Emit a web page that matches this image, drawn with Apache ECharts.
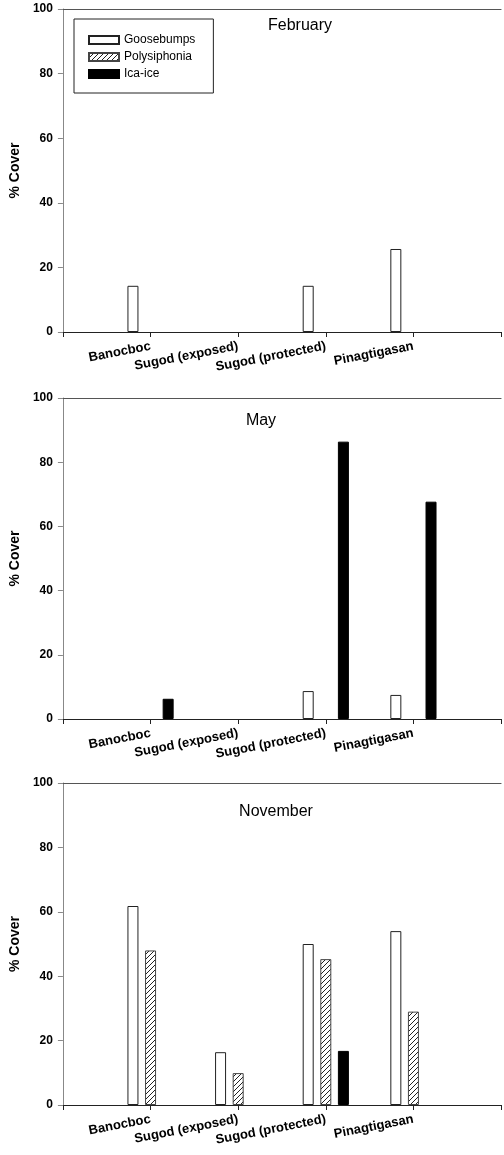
<!DOCTYPE html>
<html>
<head>
<meta charset="utf-8">
<script src="https://cdn.jsdelivr.net/npm/echarts@6/dist/echarts.min.js"></script>
<style>
html,body{margin:0;padding:0;background:#fff;}
#chart{width:504px;height:1155px;}
</style>
</head>
<body>
<div id="chart"></div>
<script>
// ---- data ----
const categories = ['Banocboc', 'Sugod (exposed)', 'Sugod (protected)', 'Pinagtigasan'];
const months = ['February', 'May', 'November'];
const seriesNames = ['Goosebumps', 'Polysiphonia', 'Ica-ice'];
const yTicks = [0, 20, 40, 60, 80, 100];

const febGoosebumps   = [14.3, 0, 14.3, 25.7];
const febPolysiphonia = [0, 0, 0, 0];
const febIcaIce       = [0, 0, 0, 0];

const mayGoosebumps   = [0, 0, 8.7, 7.5];
const mayPolysiphonia = [0, 0, 0, 0];
const mayIcaIce       = [6.3, 0, 86.4, 67.7];

const novGoosebumps   = [61.8, 16.4, 50.0, 54.0];
const novPolysiphonia = [48.0, 9.9, 45.3, 29.0];
const novIcaIce       = [0, 0, 16.8, 0];

const panels = [
  [febGoosebumps, febPolysiphonia, febIcaIce],
  [mayGoosebumps, mayPolysiphonia, mayIcaIce],
  [novGoosebumps, novPolysiphonia, novIcaIce]
];

// ---- layout ----
const gridTops = [9, 398, 783];
const gridHeights = [323, 321, 322];
const titlePos = [[300, 26], [261, 421], [276, 812]];
const FONT = 'Liberation Sans, Arial, Helvetica, sans-serif';

function hatch() {
  const s = 5;
  const c = document.createElement('canvas');
  c.width = s; c.height = s;
  const g = c.getContext('2d');
  g.fillStyle = '#fff';
  g.fillRect(0, 0, s, s);
  g.strokeStyle = '#222';
  g.lineWidth = 1;
  g.beginPath();
  g.moveTo(0, s); g.lineTo(s, 0);
  g.moveTo(-1, 1); g.lineTo(1, -1);
  g.moveTo(s - 1, s + 1); g.lineTo(s + 1, s - 1);
  g.stroke();
  return c;
}
const hatchPattern = { image: hatch(), repeat: 'repeat' };

const axisCats = [''].concat(categories, ['']);
// zero cover draws no bar
const pad = arr => [null].concat(arr.map(v => (v === 0 ? null : v)), [null]);

const styles = [
  { color: '#ffffff', borderColor: '#222', borderWidth: 1 },
  { color: hatchPattern, borderColor: '#444', borderWidth: 1 },
  { color: '#000000', borderColor: '#000', borderWidth: 1 }
];

const grids = [], xAxes = [], yAxes = [], series = [], graphics = [];
panels.forEach((vals, p) => {
  grids.push({ left: 61, top: gridTops[p], width: 445, height: gridHeights[p], containLabel: false });
  xAxes.push({
    type: 'category', gridIndex: p, data: axisCats, boundaryGap: false, position: 'bottom',
    axisLine: { lineStyle: { color: '#222', width: 1 } },
    axisTick: { show: true, length: 5, inside: false, lineStyle: { color: '#222' } },
    axisLabel: { show: true, interval: 0, rotate: 11, margin: 14, fontFamily: FONT, fontWeight: 'bold', fontSize: 13, color: '#000' },
    splitLine: { show: false }
  });
  xAxes.push({
    type: 'category', gridIndex: p, data: axisCats, boundaryGap: false, position: 'top',
    axisLine: { lineStyle: { color: '#555', width: 1 } },
    axisTick: { show: false }, axisLabel: { show: false }, splitLine: { show: false }
  });
  yAxes.push({
    type: 'value', gridIndex: p, min: yTicks[0], max: yTicks[yTicks.length - 1], interval: yTicks[1] - yTicks[0],
    name: '% Cover', nameLocation: 'middle', nameGap: 40, nameRotate: 90,
    nameTextStyle: { fontFamily: FONT, fontWeight: 'bold', fontSize: 14, color: '#000' },
    axisLine: { show: true, lineStyle: { color: '#888', width: 1 } },
    axisTick: { show: true, length: 5, lineStyle: { color: '#888' } },
    axisLabel: { margin: 10, fontFamily: FONT, fontWeight: 'bold', fontSize: 12, color: '#000' },
    splitLine: { show: false }
  });
  vals.forEach((arr, k) => {
    series.push({
      type: 'bar', name: seriesNames[k], xAxisIndex: p * 2, yAxisIndex: p,
      data: pad(arr), barWidth: 11, barGap: '60%',
      itemStyle: styles[k], emphasis: { disabled: true }, silent: true, animation: false
    });
  });
  graphics.push({
    type: 'text', x: titlePos[p][0], y: titlePos[p][1],
    style: { text: months[p], textAlign: 'center', textVerticalAlign: 'middle', font: '16px ' + FONT, fill: '#000' }
  });
});

const chart = echarts.init(document.getElementById('chart'), null, { renderer: 'canvas' });
chart.setOption({
  animation: false,
  backgroundColor: '#fff',
  grid: grids,
  xAxis: xAxes,
  yAxis: yAxes,
  series: series,
  legend: {
    data: seriesNames, orient: 'vertical', left: 74, top: 19,
    itemWidth: 30, itemHeight: 8, itemGap: 5,
    padding: [15, 18, 13, 14],
    borderColor: '#222', borderWidth: 1, backgroundColor: '#fff',
    icon: 'rect', selectedMode: false,
    textStyle: { fontFamily: FONT, fontSize: 12, color: '#000' }
  },
  graphic: graphics
});
</script>
</body>
</html>
